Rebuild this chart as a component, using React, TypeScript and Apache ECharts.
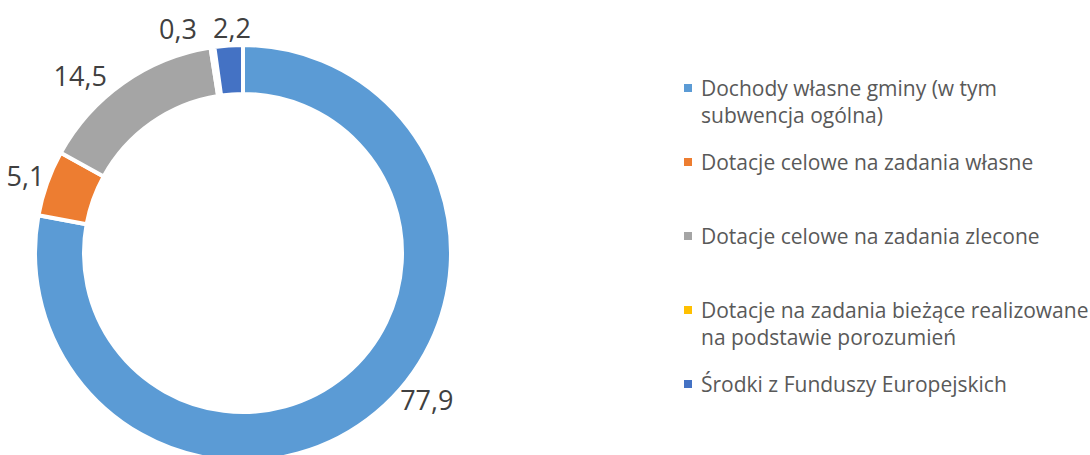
import React, { useEffect, useRef } from "react";
import * as echarts from "echarts";

const categories = [
  "Dochody własne gminy (w tym subwencja ogólna)",
  "Dotacje celowe na zadania własne",
  "Dotacje celowe na zadania zlecone",
  "Dotacje na zadania bieżące realizowane na podstawie porozumień",
  "Środki z Funduszy Europejskich",
];
const legendLabels = [
  "Dochody własne gminy (w tym\nsubwencja ogólna)",
  "Dotacje celowe na zadania własne",
  "Dotacje celowe na zadania zlecone",
  "Dotacje na zadania bieżące realizowane\nna podstawie porozumień",
  "Środki z Funduszy Europejskich",
];
const values = [77.9, 5.1, 14.5, 0.3, 2.2];
const colors = ["#5B9BD5", "#ED7D31", "#A5A5A5", "#FFC000", "#4472C4"];

// label nudges (layout only)
const labelOffsets: [number, number][] = [
  [36, -31],
  [0, 0],
  [-30, 11],
  [-31, 4],
  [5, 5],
];

const FONT = "'Open Sans', 'Noto Sans', sans-serif";

export default function App() {
  const ref = useRef<HTMLDivElement>(null);
  useEffect(() => {
    if (!ref.current) return;
    const chart = echarts.init(ref.current, undefined, { renderer: "svg" });
    const legendTop = 88;
    const legendStep = 74;
    const graphics: any[] = [];
    categories.forEach((c, i) => {
      const cy = legendTop + legendStep * i;
      graphics.push({
        type: "rect",
        shape: { x: 684, y: cy - 4, width: 8, height: 8 },
        style: { fill: colors[i] },
      });
      graphics.push({
        type: "text",
        x: 701,
        y: cy - 13.5,
        style: {
          text: legendLabels[i],
          font: `21px ${FONT}`,
          fill: "#595959",
          lineHeight: 27,
          verticalAlign: "top",
          align: "left",
        },
      });
    });
    chart.setOption({
      animation: false,
      graphic: graphics,
      series: [
        {
          type: "pie",
          center: [243, 253],
          radius: [159, 208],
          startAngle: 90,
          clockwise: true,
          silent: true,
          label: { show: false },
          labelLine: { show: false },
          itemStyle: { borderColor: "#ffffff", borderWidth: 4 },
          emphasis: { disabled: true },
          data: categories.map((c, i) => ({
            name: c,
            value: values[i],
            itemStyle: { color: colors[i] },
          })),
        },
        {
          type: "pie",
          center: [243, 253],
          radius: [212, 244],
          startAngle: 90,
          clockwise: true,
          silent: true,
          itemStyle: { color: "rgba(0,0,0,0)" },
          emphasis: { disabled: true },
          label: {
            show: true,
            position: "inside",
            formatter: (p: any) => String(p.value).replace(".", ","),
            fontSize: 27,
            fontFamily: FONT,
            color: "#404040",
          },
          labelLayout: (p: any) => ({
            dx: labelOffsets[p.dataIndex][0],
            dy: labelOffsets[p.dataIndex][1],
          }),
          data: categories.map((c, i) => ({ name: c, value: values[i] })),
        },
      ],
    });
    return () => chart.dispose();
  }, []);
  return (
    <div
      ref={ref}
      style={{ position: "fixed", left: 0, top: 0, width: 1090, height: 455, background: "#fff" }}
    />
  );
}
